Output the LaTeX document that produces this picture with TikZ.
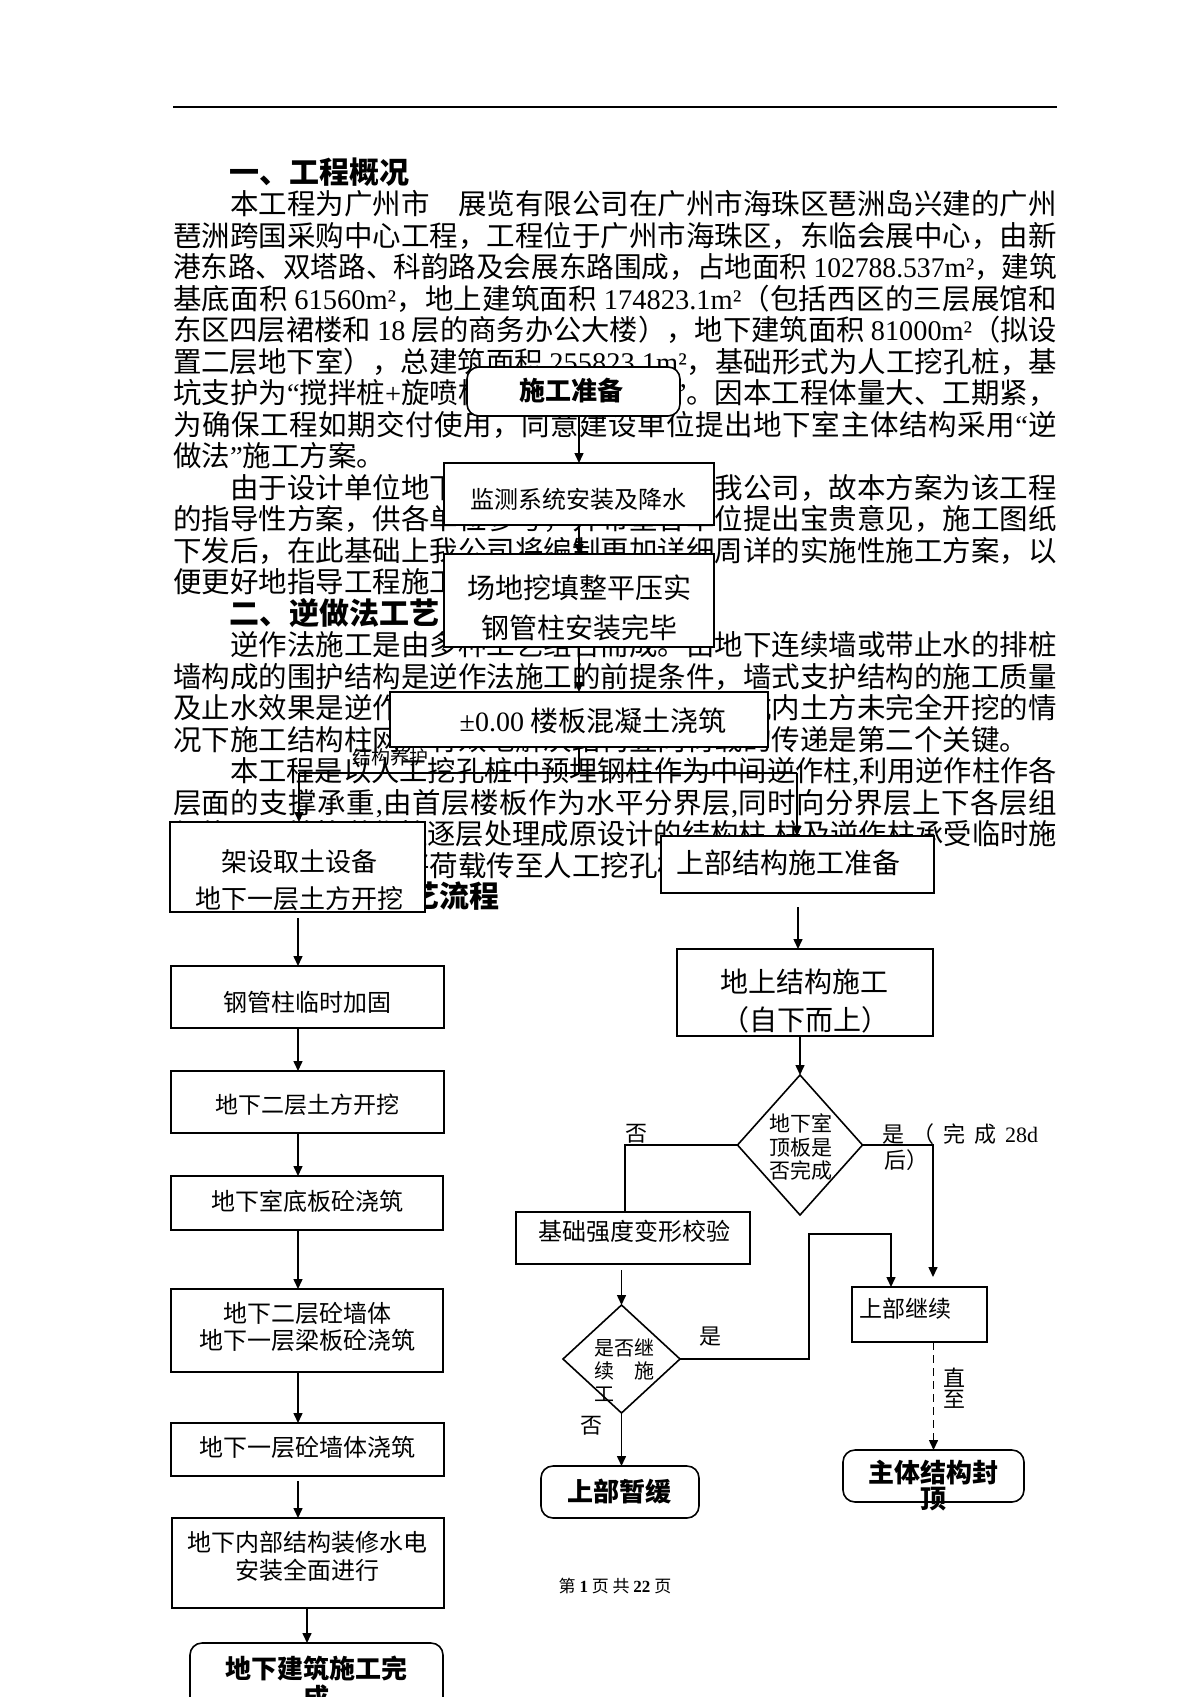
\documentclass[tikz,border=0pt]{standalone}
\usepackage{fontspec}
\setmainfont{Noto Sans CJK SC}
\newfontfamily\tnr{Liberation Serif}
\usetikzlibrary{arrows.meta,shapes.geometric}
\newcommand\nm[1]{{\tnr #1}}
\newcommand\fsz[2]{\fontsize{#1}{#2}\selectfont}
\newsavebox\jbox
\ExplSyntaxOn
\NewDocumentCommand\jtext{m}{\tl_map_inline:nn{#1}{##1\hskip0pt~plus~1fil\scan_stop:}\unskip}
\ExplSyntaxOff
\newcommand\jl[2][442pt]{\sbox\jbox{\jtext{#2}}%
 \ifdim\wd\jbox>#1\relax
  \pgfmathsetmacro\js{#1/\the\wd\jbox}\scalebox{\js}[1]{\usebox\jbox}%
 \else\hbox to #1{\jtext{#2}}\fi}
\newcommand\bx[6][fbox]{\pgfmathsetmacro\bxw{(#5-#3)/2}\pgfmathsetmacro\bxh{(#6-#4)/2}%
 \node[#1,minimum width=\bxw pt,minimum height=\bxh pt] (#2) at ({(#3+#5)/2},{(#4+#6)/2}) {};}
\tikzset{
 bodyline/.style={anchor=base west,inner sep=0pt,outer sep=0pt,font=\fsz{14.25}{16}},
 headline/.style={anchor=base west,inner sep=0pt,outer sep=0pt,font=\fsz{15}{16}\bfseries},
 fbox/.style={draw,line width=0.8pt,fill=white,inner sep=0pt,outer sep=0pt},
 term/.style={fbox,rounded corners=6pt},
 decision/.style={fbox,diamond},
 lbl/.style={inner sep=0pt,outer sep=0pt},
 conn/.style={line width=0.75pt},
 arr/.style={conn,-{Triangle[length=5pt,width=4.5pt]}},
}
\begin{document}
\begin{tikzpicture}[x=0.5pt,y=-0.5pt]
\useasboundingbox (0,0) rectangle (1200,1697);
\clip (0,0) rectangle (1200,1697);
\fill[white] (0,0) rectangle (1200,1697);
% header rule
\draw[line width=1.1pt] (173,107) -- (1057,107);
% ---------- body text ----------
\node[headline] (h1) at (229,183) {一、工程概况};
\node[bodyline] (l1) at (230,214) {\jl[413.5pt]{本工程为广州市　展览有限公司在广州市海珠区琶洲岛兴建的广州}};
\node[bodyline] (l2) at (173,246) {\jl{琶洲跨国采购中心工程，工程位于广州市海珠区，东临会展中心，由新}};
\node[bodyline] (l3) at (173,277) {\jl{港东路、双塔路、科韵路及会展东路围成，占地面积~{\nm{102788.537m²}}，建筑}};
\node[bodyline] (l4) at (173,309) {\jl{基底面积~{\nm{61560m²}}，地上建筑面积~{\nm{174823.1m²}}（包括西区的三层展馆和}};
\node[bodyline] (l5) at (173,340) {\jl{东区四层裙楼和~{\nm{18}}~层的商务办公大楼），地下建筑面积~{\nm{81000m²}}（拟设}};
\node[bodyline] (l6) at (173,372) {\jl{置二层地下室），总建筑面积~{\nm{255823.1m²}}，基础形式为人工挖孔桩，基}};
\node[bodyline] (l7) at (173,403) {\jl{坑支护为{\nm{“}}搅拌桩{\nm{+}}旋喷桩{\nm{+}}土钉墙喷射砼{\nm{”}}。因本工程体量大、工期紧，}};
\node[bodyline] (l8) at (173,435) {\jl{为确保工程如期交付使用，同意建设单位提出地下室主体结构采用{\nm{“}}逆}};
\node[bodyline] (l9) at (173,466) {做法\nm{”}施工方案。};
\node[bodyline] (l10) at (230,498) {\jl[413.5pt]{由于设计单位地下室施工图纸尚未交给我公司，故本方案为该工程}};
\node[bodyline] (l11) at (173,529) {\jl{的指导性方案，供各单位参考，并希望各单位提出宝贵意见，施工图纸}};
\node[bodyline] (l12) at (173,561) {\jl{下发后，在此基础上我公司将编制更加详细周详的实施性施工方案，以}};
\node[bodyline] (l13) at (173,592) {便更好地指导工程施工。};
\node[headline] (h2) at (229,624) {二、逆做法工艺};
\node[bodyline] (l14) at (230,655) {\jl[413.5pt]{逆作法施工是由多种工艺组合而成。由地下连续墙或带止水的排桩}};
\node[bodyline] (l15) at (173,687) {\jl{墙构成的围护结构是逆作法施工的前提条件，墙式支护结构的施工质量}};
\node[bodyline] (l16) at (173,718) {\jl{及止水效果是逆作法施工成功的第一关键；基坑内土方未完全开挖的情}};
\node[bodyline] (l17) at (173,750) {况下施工结构柱网，有效地解决结构竖向荷载的传递是第二个关键。};
\node[bodyline] (l18) at (230,781) {\jl[413.5pt]{本工程是以人工挖孔桩中预埋钢柱作为中间逆作柱{\nm{,}}利用逆作柱作各}};
\node[bodyline] (l19) at (173,813) {\jl{层面的支撑承重{\nm{,}}由首层楼板作为水平分界层{\nm{,}}同时向分界层上下各层组}};
\node[bodyline] (l20) at (173,844) {\jl{织施工，并将逆作柱逐层处理成原设计的结构柱{\nm{,}}柱及逆作柱承受临时施}};
\node[bodyline] (l21) at (173,876) {工荷载并由逆作柱将荷载传至人工挖孔桩上。};
\node[headline] (h3) at (229,907) {三、逆做法工艺流程};
% ---------- boxes ----------
\bx[term]{prep}{467}{367}{680}{416}
\bx{mon}{444}{463}{714}{525}
\bx{site}{444}{554}{714}{647}
\bx{slab}{390}{692}{768}{747}
\bx{dig1}{170}{822}{425}{912}
\bx{prepU}{661}{836}{934}{893}
\bx{gang}{171}{966}{444}{1028}
\bx{und2}{171}{1071}{444}{1133}
\bx{base}{171}{1176}{443}{1230}
\bx{wall2}{171}{1289}{443}{1372}
\bx{wall1}{171}{1423}{444}{1476}
\bx{inner}{172}{1518}{444}{1608}
\bx[term]{final}{190}{1643}{443}{1712}
\bx{up}{677}{949}{933}{1036}
\bx{chk}{516}{1212}{750}{1264}
\bx{cont}{852}{1287}{987}{1342}
\bx[term]{pause}{541}{1466}{699}{1518}
\bx[term]{top}{843}{1450}{1024}{1502}
\node[decision,minimum width=62.5pt,minimum height=70pt] (d1) at (800,1145) {};
\node[decision,minimum width=58.5pt,minimum height=54pt] (d2) at (621.5,1359) {};
% ---------- box texts ----------
\node[lbl,font=\fsz{13}{15}\bfseries] (tprep) at (571,391) {施工准备};
\node[lbl,font=\fsz{12}{14}] (tmon) at (578,499) {监测系统安装及降水};
\node[lbl,font=\fsz{14}{16}] (tsite1) at (579,588) {场地挖填整平压实};
\node[lbl,font=\fsz{14}{16}] (tsite2) at (579,628) {钢管柱安装完毕};
\node[lbl,font=\fsz{14}{16}] (tslab) at (593,721) {\nm{±0.00} 楼板混凝土浇筑};
\node[lbl,font=\fsz{13}{15}] (tdig1a) at (299,862) {架设取土设备};
\node[lbl,font=\fsz{13}{15}] (tdig1b) at (299,899) {地下一层土方开挖};
\node[lbl,font=\fsz{14}{16},anchor=west] (tprepU) at (676,863) {上部结构施工准备};
\node[lbl,font=\fsz{12}{14}] (tgang) at (307,1002) {钢管柱临时加固};
\node[lbl,font=\fsz{11.5}{14}] (tund2) at (307,1105) {地下二层土方开挖};
\node[lbl,font=\fsz{12}{14}] (tbase) at (307,1201) {地下室底板砼浇筑};
\node[lbl,font=\fsz{12}{14}] (twall2a) at (307,1313) {地下二层砼墙体};
\node[lbl,font=\fsz{12}{14}] (twall2b) at (307,1340) {地下一层梁板砼浇筑};
\node[lbl,font=\fsz{12}{14}] (twall1) at (307,1447) {地下一层砼墙体浇筑};
\node[lbl,font=\fsz{12}{14}] (tinner1) at (307,1542) {地下内部结构装修水电};
\node[lbl,font=\fsz{12}{14}] (tinner2) at (307,1570) {安装全面进行};
\node[lbl,font=\fsz{13}{14.5}\bfseries,align=center] (tfinal) at (316,1683) {地下建筑施工完\\成};
\node[lbl,font=\fsz{14}{16}] (tup1) at (804,982) {地上结构施工};
\node[lbl,font=\fsz{14}{16}] (tup2) at (805,1020) {（自下而上）};
\node[lbl,font=\fsz{10.5}{11.75},align=center] (td1) at (801,1147) {地下室\\顶板是\\否完成};
\node[lbl,font=\fsz{12}{14}] (tchk) at (634,1231) {基础强度变形校验};
\node[lbl,font=\fsz{10}{11.5},align=left] (td2) at (624,1370) {是否继\\\makebox[30pt][s]{续 施}\\工};
\node[lbl,font=\fsz{11.5}{14},anchor=west] (tcont) at (859,1309) {上部继续};
\node[lbl,font=\fsz{13}{15}\bfseries] (tpause) at (619,1491) {上部暂缓};
\node[lbl,font=\fsz{13}{13}\bfseries,align=center] (ttop) at (933,1486) {主体结构封\\顶};
% ---------- connectors ----------
\draw[arr] (mon.north |- prep.south) -- (mon.north);
\draw[arr] (mon.south) -- (site.north);
\draw[arr] (site.south) -- (slab.north);
\coordinate (spl) at (299,773);
\coordinate (spr) at (797,773);
\draw[conn] (slab.south) -- (slab.south |- spl);
\draw[conn] (spl) -- (spr);
\draw[arr] (spl) -- (spl |- dig1.north);
\draw[arr] (spr) -- (spr |- prepU.north);
\coordinate (lx) at (298,0);
\draw[arr,shorten <=3pt] (dig1.south -| lx) -- (gang.north -| lx);
\draw[arr] (gang.south -| lx) -- (und2.north -| lx);
\draw[arr] (und2.south -| lx) -- (base.north -| lx);
\draw[arr] (base.south -| lx) -- (wall2.north -| lx);
\draw[arr] (wall2.south -| lx) -- (wall1.north -| lx);
\draw[arr,shorten <=2.5pt] (wall1.south -| lx) -- (inner.north -| lx);
\coordinate (lx2) at (307,0);
\draw[arr] (inner.south -| lx2) -- (final.north -| lx2);
\coordinate (rx) at (798,0);
\draw[arr,shorten <=7pt] (prepU.south -| rx) -- (up.north -| rx);
\draw[arr] (up.south -| d1.north) -- (d1.north);
\coordinate (nx) at (625,1145);
\draw[conn] (d1.west) -- (nx) -- (nx |- chk.north);
\coordinate (yx) at (933,1145);
\coordinate (yend) at (933,1277);
\draw[arr] (d1.east) -- (yx) -- (yend);
\draw[arr,shorten <=3pt] (chk.south -| d2.north) -- (d2.north);
\coordinate (ya) at (809,1359);
\coordinate (yb) at (809,1234);
\coordinate (yc) at (891,1234);
\draw[arr] (d2.east) -- (ya) -- (yb) -- (yc) -- (yc |- cont.north);
\draw[arr] (d2.south) -- (d2.south |- pause.north);
\draw[arr,dash pattern=on 4pt off 2.5pt] (cont.south -| top.north) -- (top.north);
% ---------- connector labels ----------
\node[lbl,font=\fsz{9.5}{11}] (lyh) at (390,757) {结构养护};
\node[lbl,font=\fsz{11}{13}] (lno1) at (636,1134) {否};
\node[lbl,font=\fsz{11}{13},anchor=base west] (lyes1a) at (882,1142) {\makebox[78pt][s]{是 （ 完 成 \nm{28d}}};
\node[lbl,font=\fsz{11}{13},anchor=west] (lyes1b) at (884,1160) {后）};
\node[lbl,font=\fsz{11}{13}] (lyes2) at (710,1337) {是};
\node[lbl,font=\fsz{11}{13}] (lno2) at (591,1426) {否};
\node[lbl,font=\fsz{11}{10.5},align=center] (lzz) at (954,1388) {直\\至};
% ---------- footer ----------
\node[lbl,font=\fsz{8.5}{10}] (foot) at (615,1586) {第 {\tnr\bfseries 1} 页 共 {\tnr\bfseries 22} 页};
\end{tikzpicture}
\end{document}
